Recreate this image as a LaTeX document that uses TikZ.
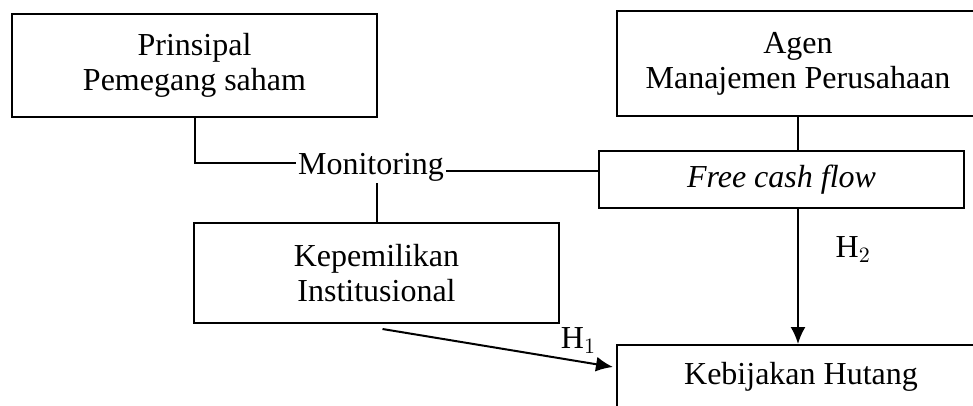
\documentclass[tikz,border=0pt]{standalone}
\usepackage{fontspec}
\usepackage{amsmath}
\usetikzlibrary{arrows.meta}
\setmainfont{Liberation Serif}

\begin{document}
\begin{tikzpicture}[x=0.5pt,y=-0.5pt,
    every node/.style={font=\fontsize{16}{17.5}\selectfont, align=center},
    box/.style={draw, line width=1pt, anchor=north west, inner sep=0pt},
    link/.style={line width=1pt},
    arr/.style={line width=1pt, -{Latex[length=8.5pt,width=7.5pt]}}]
  \useasboundingbox (0,0) rectangle (973,406);
  \clip (0,0) rectangle (973,406);
  \node[box, minimum width=182.5pt, minimum height=51.5pt] (P) at (11,13) {Prinsipal\\Pemegang saham};
  \node[box, minimum width=181pt, minimum height=52.5pt] (A) at (616,10) {Agen\\Manajemen Perusahaan};
  \node[inner sep=1pt] (M) at (371,167) {Monitoring};
  \node[box, minimum width=182.5pt, minimum height=28.5pt, font=\itshape\fontsize{16}{18}\selectfont] (F) at (598,150) {Free cash flow};
  \node[box, minimum width=182.5pt, minimum height=50pt] (K) at (193,222) {Kepemilikan\\Institusional};
  \node[box, minimum width=184pt, minimum height=32pt] (H) at (616,344) {Kebijakan Hutang};
  \draw[link] (P.south) |- ([yshift=2pt]M.west);
  \draw[link] ([yshift=-2pt]M.east) -- ([yshift=-2pt]M.east -| F.west);
  \draw[link] (M.south -| K.north) -- (K.north);
  \draw[link] (A.south) -- (A.south |- F.north);
  \draw[arr] (A.south |- F.south) -- (A.south |- H.north)
    node[pos=0.3, anchor=west, xshift=15pt] {H$_2$};
  \draw[arr] ([shift={(6,5)}]K.south) -- ([yshift=5pt,xshift=-1.5pt]H.west)
    node[pos=0.85, above=0pt] {H$_1$};
\end{tikzpicture}
\end{document}
